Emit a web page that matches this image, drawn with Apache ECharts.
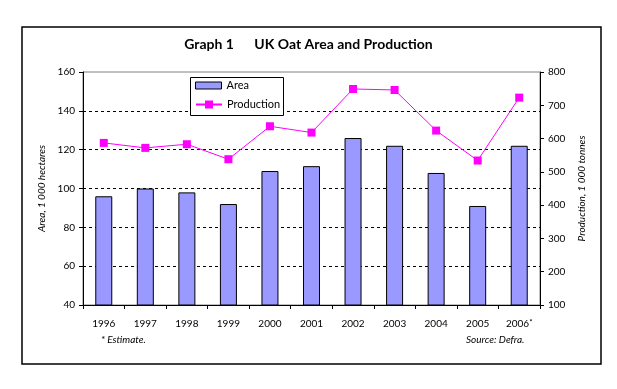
<!DOCTYPE html>
<html>
<head>
<meta charset="utf-8">
<script src="https://cdn.jsdelivr.net/npm/echarts@6/dist/echarts.min.js"></script>
<style>
html,body{margin:0;padding:0;background:#fff;}
#c{width:617px;height:389px;}
</style>
</head>
<body>
<div id="c"></div>
<script>
const years = ['1996','1997','1998','1999','2000','2001','2002','2003','2004','2005','2006'];
const areaValues = [96, 100, 98, 92, 109, 111.5, 126, 122, 108, 91, 122];
const productionValues = [587, 572, 583, 538, 637, 618, 749, 746, 624, 534, 723];
const leftTicks = [40, 60, 80, 100, 120, 140, 160];
const rightTicks = [100, 200, 300, 400, 500, 600, 700, 800];

const FONT = 'Lato, "DejaVu Sans", sans-serif';
const chart = echarts.init(document.getElementById('c'), null, {renderer: 'canvas'});
chart.setOption({
  animation: false,
  backgroundColor: '#fff',
  textStyle: {fontFamily: FONT, color: '#000'},
  title: [
    {text: 'Graph 1      UK Oat Area and Production', left: 'center', top: 37, padding: 0,
     textStyle: {fontFamily: FONT, fontSize: 14, fontWeight: 'bold', color: '#000'}},
    {text: '* Estimate.', left: 101, top: 335, padding: 0,
     textStyle: {fontFamily: FONT, fontSize: 10, fontStyle: 'italic', fontWeight: 'normal', color: '#000'}},
    {text: 'Source: Defra.', left: 466, top: 335, padding: 0,
     textStyle: {fontFamily: FONT, fontSize: 10, fontStyle: 'italic', fontWeight: 'normal', color: '#000'}}
  ],
  graphic: [
    {type: 'rect', shape: {x: 22, y: 27, width: 579, height: 337}, style: {fill: 'none', stroke: '#000', lineWidth: 1.5}, z: 0},
    {type: 'rect', shape: {x: 190.5, y: 77.5, width: 93, height: 38}, style: {fill: '#fff', stroke: '#000', lineWidth: 1}, z: 10}
  ],
  legend: [
    {data: [{name: 'Area', icon: 'rect'}], left: 195, top: 80, padding: 0, itemWidth: 26, itemHeight: 7, itemGap: 0, z: 11,
     itemStyle: {borderWidth: 1, borderColor: '#000'},
     textStyle: {fontFamily: FONT, fontSize: 11, color: '#000'}},
    {data: ['Production'], left: 195, top: 99, padding: 0, itemWidth: 26, itemHeight: 10, itemGap: 0, z: 11,
     textStyle: {fontFamily: FONT, fontSize: 11, color: '#000'}}
  ],
  grid: {left: 83, right: 77, top: 72, bottom: 84, show: true, borderColor: '#808080', borderWidth: 1, backgroundColor: 'transparent'},
  xAxis: {
    type: 'category', data: years, boundaryGap: true,
    axisLine: {lineStyle: {color: '#000', width: 1}},
    axisTick: {show: true, length: 4, interval: 0, lineStyle: {color: '#000'}},
    axisLabel: {interval: 0, margin: 13, fontSize: 10, color: '#000', fontFamily: FONT,
      formatter: function (v, i) { return i === years.length - 1 ? '{a|' + v + '}{s|*}' : '{a|' + v + '}'; },
      rich: {a: {fontSize: 10, lineHeight: 12, fontFamily: FONT, color: '#000'},
             s: {fontSize: 8, lineHeight: 12, fontFamily: FONT, color: '#000', verticalAlign: 'top'}}}
  },
  yAxis: [
    {type: 'value', min: leftTicks[0], max: leftTicks[leftTicks.length - 1], interval: 20, position: 'left',
     name: 'Area, 1 000 hectares', nameLocation: 'middle', nameGap: 33, nameRotate: 90,
     nameTextStyle: {fontFamily: FONT, fontSize: 10, fontStyle: 'italic', color: '#000'},
     axisLine: {show: true, lineStyle: {color: '#000'}},
     axisTick: {show: true, length: 4, lineStyle: {color: '#000'}},
     axisLabel: {margin: 8, fontSize: 10, color: '#000', fontFamily: FONT},
     splitLine: {show: true, showMinLine: false, showMaxLine: false, lineStyle: {color: '#000', type: [3, 3], width: 1}}},
    {type: 'value', min: rightTicks[0], max: rightTicks[rightTicks.length - 1], interval: 100, position: 'right',
     name: 'Production, 1 000 tonnes', nameLocation: 'middle', nameGap: 33, nameRotate: 90,
     nameTextStyle: {fontFamily: FONT, fontSize: 10, fontStyle: 'italic', color: '#000'},
     axisLine: {show: true, lineStyle: {color: '#000'}},
     axisTick: {show: true, length: 4, lineStyle: {color: '#000'}},
     axisLabel: {margin: 8, fontSize: 10, color: '#000', fontFamily: FONT},
     splitLine: {show: false}}
  ],
  series: [
    {name: 'Area', type: 'bar', yAxisIndex: 0, data: areaValues, barWidth: 17,
     itemStyle: {color: '#9999FF', borderColor: '#000', borderWidth: 1}},
    {name: 'Production', type: 'line', yAxisIndex: 1, data: productionValues,
     symbol: 'rect', symbolSize: 8, showAllSymbol: true,
     lineStyle: {color: '#FF00FF', width: 1}, itemStyle: {color: '#FF00FF', borderWidth: 0}}
  ]
});
</script>
</body>
</html>
